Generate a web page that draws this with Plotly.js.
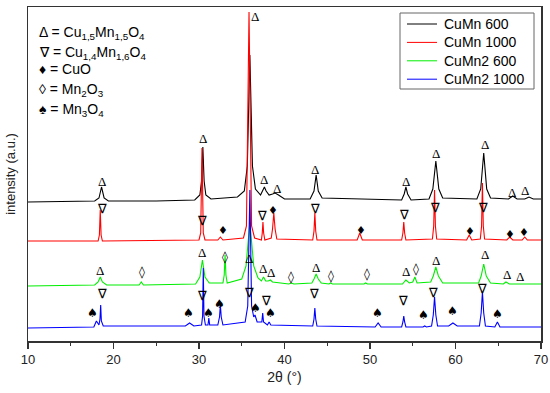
<!DOCTYPE html>
<html>
<head>
<meta charset="utf-8">
<script src="https://cdn.plot.ly/plotly-3.0.1.min.js"></script>
<style>html,body{margin:0;padding:0;background:#fff}#chart{width:550px;height:393px}</style>
</head>
<body>
<div id="chart"></div>
<script>
// Series names
const seriesNames = ["CuMn 600", "CuMn 1000", "CuMn2 600", "CuMn2 1000"];
const seriesColors = ["#000000", "#ff0000", "#00ee00", "#0000ff"];

// CuMn 600 (black), 2theta and intensity (a.u., offset)
const cuMn600_x = [10,17.8,18.3,18.6,18.9,19.4,25,29.5,30.1,30.3,30.45,30.6,30.8,31.4,34.5,35.3,35.65,35.95,36.25,36.6,37.2,37.45,37.65,37.85,38.2,38.6,38.9,39.3,40.0,43.0,43.45,43.7,43.95,44.4,53.7,54.0,54.2,54.4,54.8,56.9,57.35,57.7,58.05,58.5,62.5,62.95,63.3,63.65,64.1,66.2,66.7,67.2,68.1,68.6,69.1,70];
const cuMn600_y = [139,140,143,154,143,140,140,141,146,160,194,160,146,142,144,150,175,286,175,152,146,150,154,150,146,147,148,146,142,142,150,166,150,143,141,147,154,147,141,142,152,180,152,143,142,152,188,152,143,142,145,142,142,144,142,142];

// CuMn 1000 (red)
const cuMn1000_x = [10,18.2,18.35,18.45,18.55,18.7,30.0,30.2,30.35,30.5,30.7,32.2,32.5,32.8,35.2,35.55,35.85,36.15,36.5,37.3,37.4,37.48,37.56,37.7,38.45,38.6,38.75,38.9,39.1,43.3,43.45,43.55,43.65,43.8,48.5,48.8,49.1,53.7,53.85,53.95,54.05,54.2,57.3,57.45,57.55,57.65,57.8,61.3,61.6,61.9,62.9,63.05,63.15,63.25,63.4,66.0,66.35,66.7,67.8,68.1,68.4,70];
const cuMn1000_y = [100,100,106,131,106,100,101,108,193,108,101,101,104,101,103,115,329,115,103,101,108,119,108,101,103,112,128,112,102,101,110,128,110,101,101,108,101,101,108,119,108,101,102,115,151,115,102,101,106,101,102,115,158,115,102,101,104,101,101,104,101,101];

// CuMn2 600 (green)
const cuMn2_600_x = [10,17.8,18.2,18.45,18.7,19.2,23.0,23.25,23.5,29.6,30.1,30.4,30.7,31.2,32.8,32.95,33.05,33.15,33.3,35.0,35.5,35.95,36.4,36.9,37.3,37.55,37.8,38.1,38.35,38.6,40.5,40.8,41.1,43.2,43.45,43.7,43.95,44.3,45.2,45.4,45.6,49.3,49.5,49.7,53.8,54.2,54.6,55.0,55.25,55.5,57.1,57.4,57.7,58.0,58.5,62.7,63.0,63.3,63.6,64.1,65.6,65.9,66.3,70];
const cuMn2_600_y = [55,56,59,64,59,56,56,59,56,57,64,81,64,58,58,66,86,66,58,62,75,119,75,63,60,64,60,60,61,59,57,58,57,58,62,67,62,58,57,58,57,57,58,57,57,61,58,59,64,58,59,65,74,65,58,58,65,77,65,58,57,59,57,57];

// CuMn2 1000 (blue)
const cuMn2_1000_x = [10,17.7,18.0,18.3,18.42,18.5,18.58,18.8,28.4,28.9,29.4,30.3,30.42,30.5,30.58,30.75,31.05,31.15,31.25,32.2,32.4,32.5,32.6,32.8,35.4,35.7,35.95,36.15,36.4,36.55,36.8,37.35,37.45,37.55,38.0,38.2,38.4,43.3,43.45,43.55,43.65,43.8,50.6,50.95,51.3,53.7,53.85,53.95,54.05,54.2,56.2,56.4,56.6,57.2,57.4,57.55,57.7,57.9,59.2,59.7,60.2,62.8,63.0,63.15,63.3,63.5,64.6,64.9,65.2,70];
const cuMn2_1000_y = [13,14,20,16,22,36,20,15,15,18,15,16,25,73,25,16,16,23,16,16,24,36,24,16,19,35,151,35,24,26,19,19,28,19,16,19,16,15,22,33,22,15,14,18,14,14,19,25,19,14,14,15,14,15,26,44,26,15,15,18,15,15,28,49,28,15,14,19,14,14];

// Phase marker labels on the curves
const markerSymbols = {A: "Δ", B: "∇", C: "♦", D: "◊", E: "♠"};
const markA_x = [18.6,30.5,36.5,37.6,39.1,43.6,54.2,57.7,63.4,66.6,68.1, 18.4,30.3,35.9,37.5,38.4,43.7,54.2,57.7,63.4,66.0,67.5];
const markA_y = [160,203,325,162,153,172,160,188,197,149,151, 71,89,83,73,69,74,70,81,87,67,65];
const markB_x = [18.6,30.4,37.4,43.6,54.0,57.6,63.2, 18.7,30.4,35.8,37.8,43.5,53.9,57.4,63.1];
const markB_y = [133,121,126,133,127,134,134, 48,46,49,41,48,41,49,53];
const markC_x = [32.8,38.7,48.9,61.7,66.4,68.0];
const markC_y = [111,131,111,110,107,109];
const markD_x = [23.3,33.0,40.8,45.4,49.7,55.4];
const markD_y = [69,84,64,65,67,72];
const markE_x = [17.6,28.8,31.1,32.4,36.6,38.4,50.9,56.2,59.7,64.9];
const markE_y = [28,28,28,37,33,28,28,26,30,27];

// Phase key text
const phaseKey = [
  "Δ = Cu<sub>1,5</sub>Mn<sub>1,5</sub>O<sub>4</sub>",
  "∇ = Cu<sub>1,4</sub>Mn<sub>1,6</sub>O<sub>4</sub>",
  "♦ = CuO",
  "◊ = Mn<sub>2</sub>O<sub>3</sub>",
  "♠ = Mn<sub>3</sub>O<sub>4</sub>"
];
const phaseKey_y = [308, 288, 272, 251, 231];

const xs = [cuMn600_x, cuMn1000_x, cuMn2_600_x, cuMn2_1000_x];
const ys = [cuMn600_y, cuMn1000_y, cuMn2_600_y, cuMn2_1000_y];
const traces = xs.map((x, i) => ({
  x: x, y: ys[i], type: "scatter", mode: "lines", name: seriesNames[i],
  line: {color: seriesColors[i], width: 1.1}, showlegend: false
}));

const annotations = [];
const shapes = [];
function addMarks(xa, ya, sym, size, fam) {
  xa.forEach((x, i) => annotations.push({
    x: x, y: ya[i], xref: "x", yref: "y", text: sym, showarrow: false,
    font: {size: size, color: "#000", family: fam}, xanchor: "center", yanchor: "middle"
  }));
}
addMarks(markA_x, markA_y, markerSymbols.A, 13, "Liberation Serif, DejaVu Serif");
addMarks(markB_x, markB_y, markerSymbols.B, 13, "DejaVu Sans");
addMarks(markC_x, markC_y, markerSymbols.C, 11, "DejaVu Sans");
addMarks(markD_x, markD_y, markerSymbols.D, 12, "DejaVu Sans");
addMarks(markE_x, markE_y, markerSymbols.E, 12, "DejaVu Sans");
phaseKey.forEach((t, i) => annotations.push({
  x: 11.05, y: phaseKey_y[i], xref: "x", yref: "y", text: t, showarrow: false,
  font: {size: 14, color: "#000", family: "Liberation Sans, Arial"}, xanchor: "left", yanchor: "middle"
}));

// Series legend box (drawn in paper coordinates of the plot area)
const plotL = 28, plotT = 7, plotW = 513, plotH = 334;
const px = v => (v - plotL) / plotW;
const py = v => 1 - (v - plotT) / plotH;
shapes.push({type: "rect", xref: "paper", yref: "paper", x0: px(400), x1: px(534), y0: py(13), y1: py(89),
  line: {color: "#666", width: 1}, fillcolor: "#fff", layer: "above"});
seriesNames.forEach((n, i) => {
  const yy = 24 + i * 18.4;
  shapes.push({type: "line", xref: "paper", yref: "paper", x0: px(407), x1: px(437), y0: py(yy), y1: py(yy),
    line: {color: seriesColors[i], width: 1}, layer: "above"});
  annotations.push({xref: "paper", yref: "paper", x: px(442), y: py(yy), text: n, showarrow: false,
    xanchor: "left", yanchor: "middle", font: {size: 14, color: "#000", family: "Liberation Sans, Arial"}});
});

const layout = {
  width: 550, height: 393,
  margin: {l: 28, r: 9, t: 7, b: 52},
  paper_bgcolor: "#fff", plot_bgcolor: "#fff",
  font: {family: "Liberation Sans, Arial", size: 13, color: "#222"},
  showlegend: false,
  xaxis: {range: [10, 70], dtick: 10, tick0: 10, ticks: "outside", ticklen: 6, tickwidth: 1.2,
    tickcolor: "#333", showline: true, linecolor: "#333", linewidth: 1.5, mirror: true,
    showgrid: false, zeroline: false, tickfont: {size: 13, color: "#222"},
    minor: {dtick: 5, ticks: "outside", ticklen: 3, tickcolor: "#333", tickwidth: 1.2, showgrid: false},
    title: {text: "2θ (°)", font: {size: 14, color: "#222"}, standoff: 6}, automargin: false},
  yaxis: {range: [0, 334], showticklabels: false, ticks: "", showline: true, linecolor: "#333",
    linewidth: 1.5, mirror: true, showgrid: false, zeroline: false,
    title: {text: "intensity (a.u.)", font: {size: 13, color: "#222"}, standoff: 8}, automargin: false},
  annotations: annotations,
  shapes: shapes
};
Plotly.newPlot("chart", traces, layout, {displayModeBar: false, staticPlot: true});
</script>
</body>
</html>
